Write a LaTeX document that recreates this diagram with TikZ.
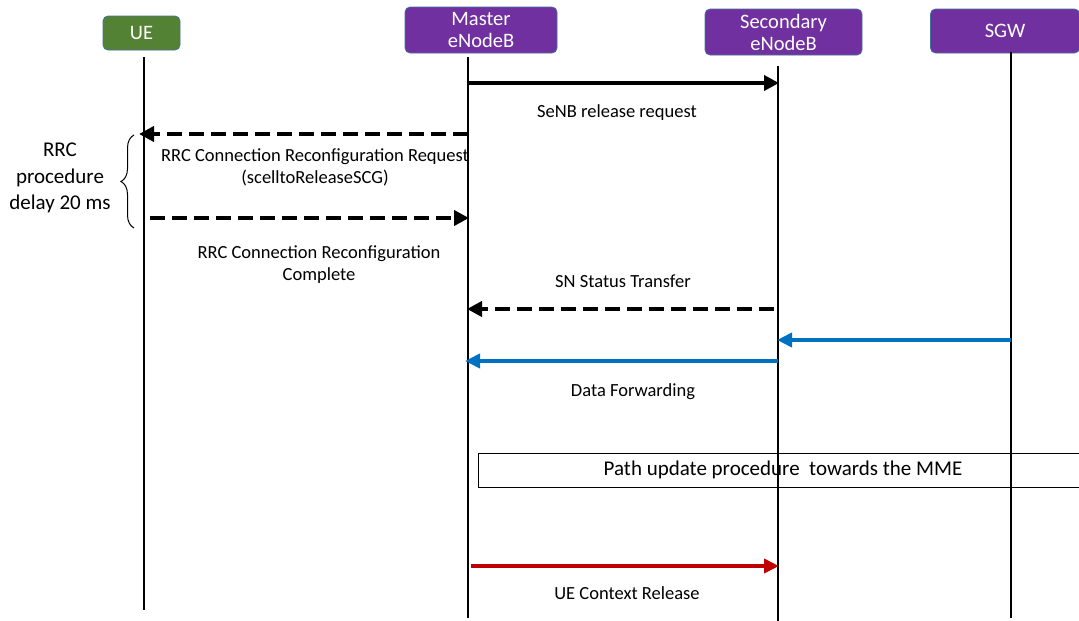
\documentclass[tikz,border=0pt]{standalone}
\usepackage{fontspec}
\setmainfont{Carlito}
\usetikzlibrary{arrows.meta,decorations.pathreplacing}
\definecolor{uegreen}{RGB}{84,130,53}
\definecolor{enbpurple}{RGB}{112,48,160}
\definecolor{hdrborder}{RGB}{65,113,156}
\definecolor{fwdblue}{RGB}{0,112,192}
\definecolor{relred}{RGB}{192,0,0}
\tikzset{
  hdr/.style={draw=hdrborder, line width=0.8pt, fill=#1, rounded corners=5pt, text=white,
    font=\fontsize{20.5}{22}\selectfont, align=center, inner sep=0pt},
  life/.style={line width=2pt, black},
  msgsolid/.style={line width=4pt, -{Triangle[length=15pt,width=15pt]}},
  msgdash/.style={line width=4pt, dash pattern=on 15pt off 7pt, -{Triangle[length=15pt,width=15pt]}},
  msgblue/.style={line width=4pt, fwdblue, -{Triangle[length=15pt,width=14pt]}},
  msgred/.style={line width=4pt, relred, -{Triangle[length=15pt,width=14pt]}},
  lbl/.style={font=\fontsize{18.5}{22}\selectfont, align=center, inner sep=0pt},
}
\begin{document}
\begin{tikzpicture}[x=1pt,y=-1pt]
\useasboundingbox (0,0) rectangle (1079,621);
\clip (0,0) rectangle (1079,621);
% headers
\node[hdr=uegreen, minimum width=77pt, minimum height=34pt] (ue) at (141.5,33) {UE};
\node[hdr=enbpurple, minimum width=152pt, minimum height=46pt] (men) at (481,30) {Master\\eNodeB};
\node[hdr=enbpurple, minimum width=157pt, minimum height=46pt] (sen) at (783.5,32) {Secondary\\eNodeB};
\node[hdr=enbpurple, minimum width=149pt, minimum height=44pt] (sgw) at (1005,31) {SGW};
% lifelines
\coordinate (ueT) at (144,57);   \coordinate (ueB) at (144,610);
\coordinate (meT) at (468,57);   \coordinate (meB) at (468,618);
\coordinate (seT) at (778,66);   \coordinate (seB) at (778,621);
\coordinate (sgT) at (1011,52);  \coordinate (sgB) at (1011,618);
\draw[life] (ueT) -- (ueB);
\draw[life] (meT) -- (meB);
\draw[life] (seT) -- (seB);
\draw[life] (sgT) -- (sgB);
% message end points
\coordinate (m1a) at (468,83);  \coordinate (m1b) at (779,83);
\coordinate (m2a) at (468,134); \coordinate (m2b) at (139,134);
\coordinate (m3a) at (150,218); \coordinate (m3b) at (469,218);
\coordinate (m4a) at (774,309); \coordinate (m4b) at (467,309);
\coordinate (m5a) at (1011,340); \coordinate (m5b) at (777,340);
\coordinate (m6a) at (778,361); \coordinate (m6b) at (465,361);
\coordinate (m7a) at (471,566); \coordinate (m7b) at (779,566);
% messages
\draw[msgsolid] (m1a) -- (m1b);
\node[lbl] (l1) at (617,113) {SeNB release request};
\draw[msgdash] (m2a) -- (m2b);
\node[lbl] (l2) at (315,167) {RRC Connection\ Reconfiguration\ Request\\(scelltoReleaseSCG)};
\draw[msgdash] (m3a) -- (m3b);
\node[lbl] (l3) at (319,265) {RRC Connection\ Reconfiguration\\Complete};
\node[lbl] (l4) at (623,281) {SN Status Transfer};
\draw[msgdash] (m4a) -- (m4b);
\draw[msgblue] (m5a) -- (m5b);
\draw[msgblue] (m6a) -- (m6b);
\node[lbl] (l6) at (633,392) {Data Forwarding};
% path update box
\node[draw, line width=0.8pt, minimum width=640pt, minimum height=34pt, anchor=west,
  inner sep=0pt] (path) at (478,470) {};
\node[font=\fontsize{21}{22}\selectfont, inner sep=0pt] (pathtxt) at (783,470) {Path update procedure\ \ towards the MME};
\draw[msgred] (m7a) -- (m7b);
\node[lbl] (l7) at (627,593) {UE Context Release};
% brace
\coordinate (brB) at (134,228); \coordinate (brT) at (134,135);
\draw[line width=1pt, decorate, decoration={brace, amplitude=13pt}] (brB) -- (brT);
\node[font=\fontsize{21}{26.5}\selectfont, align=center, inner sep=0pt] (rrc) at (60,178) {RRC\\procedure\\delay 20 ms};
\end{tikzpicture}
\end{document}
